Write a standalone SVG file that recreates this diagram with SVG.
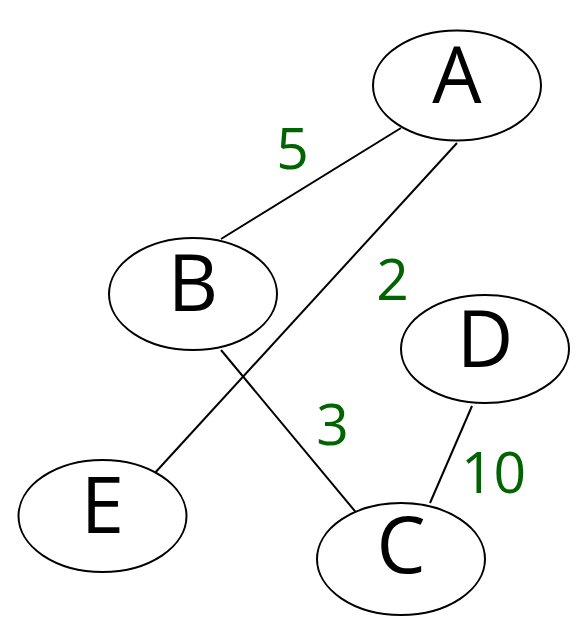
<svg xmlns="http://www.w3.org/2000/svg" width="584" height="643" viewBox="0 0 584 643">
<style>
.node ellipse{fill:#fff;stroke:#000;stroke-width:2}
.node text{font-family:"Open Sans","Noto Sans",sans-serif;font-size:78px;fill:#000;text-anchor:middle}
.edges line{stroke:#000;stroke-width:2}
.lbl{font-family:"Open Sans","Noto Sans",sans-serif;font-size:57px;fill:#006400;text-anchor:middle}
</style>
<rect width="584" height="643" fill="#fff"/>
<g id="edges" class="edges">
<line x1="401" y1="128" x2="221" y2="239"/>
<line x1="457" y1="143" x2="153" y2="475"/>
<line x1="221" y1="350" x2="359" y2="516"/>
<line x1="472" y1="406" x2="430" y2="503"/>
</g>
<g id="labels">
<text class="lbl" x="292.5" y="169">5</text>
<text class="lbl" x="392.5" y="300">2</text>
<text class="lbl" x="332.5" y="445">3</text>
<text class="lbl" x="493.5" y="493">10</text>
</g>
<g id="A" class="node"><ellipse cx="457" cy="85.5" rx="84" ry="55"/><text x="457" y="103">A</text></g>
<g id="B" class="node"><ellipse cx="193" cy="294" rx="84" ry="56"/><text x="193" y="311">B</text></g>
<g id="D" class="node"><ellipse cx="485" cy="349" rx="84" ry="54"/><text x="485" y="367">D</text></g>
<g id="E" class="node"><ellipse cx="102.5" cy="516" rx="84" ry="56"/><text x="102.5" y="533">E</text></g>
<g id="C" class="node"><ellipse cx="401" cy="559" rx="84" ry="56"/><text x="401" y="573">C</text></g>
</svg>
